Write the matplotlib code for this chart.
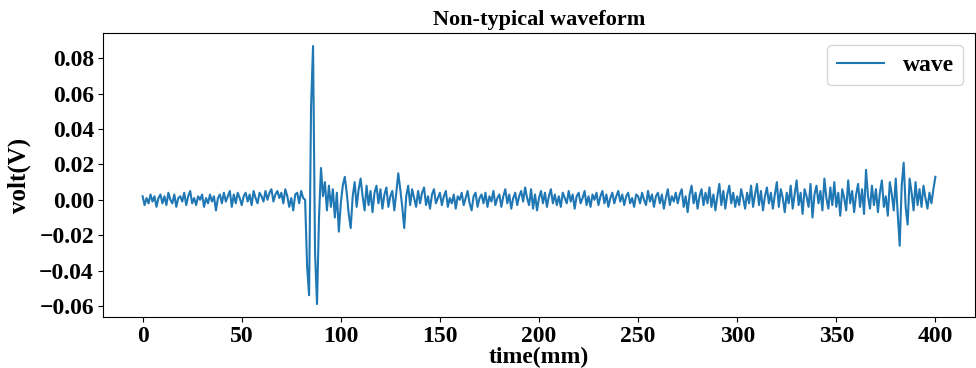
import matplotlib
matplotlib.use("Agg")
import matplotlib.pyplot as plt
import numpy as np

t_start, t_end = 0, 400

v_000 = [0.002, -0.003, 0.001, -0.002, 0.003, -0.001, 0.002, -0.004, 0.001, 0.003,
         -0.002, 0.002, -0.003, 0.004, 0.000, -0.002, 0.003, -0.004, 0.001, 0.002,
         -0.001, 0.004, -0.003, 0.002, 0.005, -0.002, 0.001, -0.003, 0.002, 0.000,
         0.003, -0.004, 0.001, -0.002, 0.003, -0.001, 0.002, -0.006, 0.001, 0.003,
         -0.002, 0.004, -0.001, 0.002, 0.005, -0.004, 0.003, -0.002, 0.004, 0.001]
v_050 = [-0.003, 0.002, 0.004, -0.001, 0.003, -0.003, 0.005, 0.001, -0.002, 0.004,
         0.002, -0.001, 0.005, 0.000, 0.004, 0.006, -0.001, 0.003, 0.005, 0.001,
         0.004, -0.002, 0.006, 0.002, -0.004, 0.001, -0.006, 0.003, 0.004, -0.002,
         0.005, 0.001, 0.000, -0.038, -0.054, 0.053, 0.087, -0.030, -0.059, -0.010,
         0.018, 0.002, 0.010, -0.006, 0.008, -0.004, 0.006, -0.010, 0.004, -0.018]
v_100 = [-0.002, 0.008, 0.013, 0.004, -0.008, -0.016, 0.002, 0.010, -0.004, 0.006,
         0.012, 0.002, -0.006, 0.008, -0.003, 0.005, -0.007, 0.004, 0.008, -0.002,
         0.006, -0.005, 0.003, 0.007, -0.004, 0.002, 0.005, -0.006, 0.004, 0.015,
         0.006, -0.004, -0.016, 0.002, 0.008, -0.003, 0.006, 0.001, -0.004, 0.005,
         -0.002, 0.004, 0.007, -0.003, 0.002, -0.005, 0.003, 0.006, -0.002, 0.001]
v_150 = [0.004, -0.003, 0.002, 0.005, -0.004, 0.001, -0.002, 0.003, -0.005, 0.002,
         0.000, 0.004, -0.003, 0.001, 0.005, -0.002, -0.006, 0.002, 0.004, -0.004,
         0.001, 0.003, -0.002, 0.004, -0.004, 0.002, -0.001, 0.005, -0.003, 0.001,
         0.003, -0.004, 0.002, 0.006, -0.002, 0.003, -0.005, 0.001, 0.004, -0.003,
         0.002, 0.005, -0.001, 0.007, 0.001, -0.003, 0.006, -0.005, 0.003, -0.006]
v_200 = [0.001, 0.005, -0.002, 0.004, -0.004, 0.002, 0.006, -0.002, 0.003, -0.003,
         0.002, -0.004, 0.004, 0.001, -0.002, 0.005, -0.001, 0.003, -0.005, 0.002,
         0.004, -0.002, 0.001, 0.005, -0.003, 0.002, -0.004, 0.003, 0.000, 0.004,
         -0.003, 0.002, 0.005, -0.002, 0.003, -0.004, 0.001, 0.004, -0.002, 0.002,
         0.005, -0.001, 0.003, -0.003, 0.002, 0.004, -0.002, 0.001, -0.004, 0.003]
v_250 = [0.002, -0.002, 0.004, 0.000, -0.003, 0.005, -0.001, 0.003, -0.004, 0.002,
         0.004, -0.002, 0.003, -0.005, 0.001, 0.006, -0.003, 0.002, -0.001, 0.004,
         -0.002, 0.003, 0.006, -0.004, 0.002, -0.007, 0.003, 0.008, -0.002, 0.004,
         -0.005, 0.002, 0.006, -0.003, 0.004, -0.002, 0.007, -0.004, 0.003, -0.006,
         0.002, 0.009, -0.003, 0.005, -0.005, 0.003, 0.008, -0.002, 0.004, -0.004]
v_300 = [0.002, -0.003, 0.006, 0.001, -0.005, 0.004, -0.002, 0.008, -0.004, 0.003,
         0.009, -0.003, 0.005, -0.006, 0.002, 0.007, -0.002, 0.004, -0.005, 0.003,
         0.010, -0.004, 0.006, 0.001, -0.007, 0.004, -0.002, 0.008, -0.005, 0.003,
         0.011, -0.003, 0.004, -0.008, 0.006, 0.002, -0.004, 0.009, -0.010, 0.003,
         0.008, -0.002, 0.005, -0.006, 0.012, 0.001, -0.005, 0.007, -0.003, 0.010]
v_350 = [-0.004, 0.004, -0.009, 0.006, 0.001, -0.006, 0.011, -0.002, 0.005, -0.007,
         0.003, 0.009, -0.004, 0.006, -0.008, 0.017, 0.002, -0.005, 0.008, -0.003,
         0.006, -0.007, 0.004, 0.011, -0.004, 0.002, -0.009, 0.010, 0.003, -0.006,
         0.012, -0.008, -0.026, 0.008, 0.021, -0.004, -0.014, 0.012, 0.004, -0.006,
         0.010, -0.003, 0.006, -0.004, 0.008, 0.001, -0.005, 0.004, -0.002, 0.006,
         0.013]

volts = v_000 + v_050 + v_100 + v_150 + v_200 + v_250 + v_300 + v_350
times = np.linspace(t_start, t_end, len(volts))

plt.rcParams['font.family'] = ['Liberation Serif', 'DejaVu Serif']
plt.rcParams['font.weight'] = 'bold'

fig = plt.figure(figsize=(9.76, 3.68), dpi=100)
ax = fig.add_axes([0.1055, 0.1386, 0.8935, 0.7714])
ax.plot(times, volts, color='#1f77b4', linewidth=1.5, label='wave')

ax.set_title('Non-typical waveform', fontsize=16, fontweight='bold', pad=6)
ax.set_xlabel('time(mm)', fontsize=17, fontweight='bold', labelpad=0)
ax.set_ylabel('volt(V)', fontsize=18, fontweight='bold', labelpad=6)
ax.set_xticks(np.arange(0, 401, 50))
ax.set_yticks([-0.06, -0.04, -0.02, 0.00, 0.02, 0.04, 0.06, 0.08])
ax.tick_params(labelsize=17, pad=3)
for lab in ax.get_xticklabels() + ax.get_yticklabels():
    lab.set_fontweight('bold')
leg = ax.legend(loc='upper right', fontsize=17, handlelength=2.0)
for txt in leg.get_texts():
    txt.set_fontweight('bold')

fig.savefig('out.png', dpi=100)
